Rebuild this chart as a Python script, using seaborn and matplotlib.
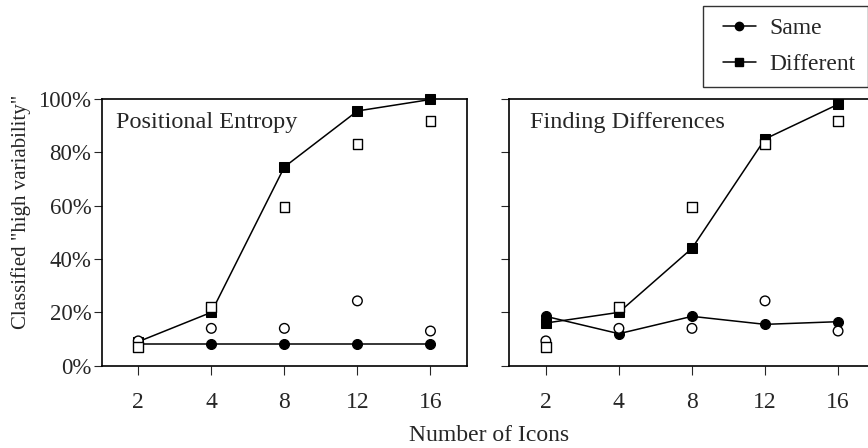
import numpy as np
import pandas as pd
import matplotlib
matplotlib.use("Agg")
import matplotlib.pyplot as plt
import seaborn as sns
from matplotlib.lines import Line2D
from matplotlib.legend_handler import HandlerLine2D

categories = ["2", "4", "8", "12", "16"]
panels = ["Positional Entropy", "Finding Differences"]

# model results (filled, connected)
pe_same = [8, 8, 8, 8, 8]
pe_diff = [9, 20, 74.5, 95.5, 99.8]
fd_same = [18.5, 12, 18.5, 15.5, 16.5]
fd_diff = [16, 20, 44, 85, 98]
# human data (open, unconnected)
human_same = [9.3, 14, 14, 24.3, 13]
human_diff = [7, 22, 59.5, 83, 91.7]

sns.set_style("ticks")
plt.rcParams["font.family"] = ["Liberation Serif", "DejaVu Serif"]
plt.rcParams["font.size"] = 14

fig = plt.figure(figsize=(8.68, 4.48), dpi=100)
axw, axh = 0.4208, 0.5954
ax1 = fig.add_axes([0.1172, 0.1837, axw, axh])
ax2 = fig.add_axes([0.5868, 0.1837, axw, axh])

model = {panels[0]: (pe_same, pe_diff), panels[1]: (fd_same, fd_diff)}
text_x = {panels[0]: 0.04, panels[1]: 0.057}

for ax, name in zip([ax1, ax2], panels):
    same, diff = model[name]
    rows = []
    for i, c in enumerate(categories):
        rows.append({"x": i, "value": same[i], "series": "Same"})
        rows.append({"x": i, "value": diff[i], "series": "Different"})
    df = pd.DataFrame(rows)
    sns.lineplot(data=df, x="x", y="value", style="series",
                 markers={"Same": "o", "Different": "s"}, dashes=False,
                 color="black", linewidth=1.1, markersize=7.2,
                 markeredgecolor="black", ax=ax, legend=False, clip_on=False,
                 zorder=3)
    hrows = []
    for i, c in enumerate(categories):
        hrows.append({"x": i, "value": human_same[i], "series": "Same"})
        hrows.append({"x": i, "value": human_diff[i], "series": "Different"})
    hdf = pd.DataFrame(hrows)
    sns.scatterplot(data=hdf, x="x", y="value", style="series",
                    markers={"Same": "o", "Different": "s"},
                    facecolor="white", edgecolor="black", linewidth=1.0,
                    s=48, ax=ax, legend=False, zorder=4, clip_on=False)
    ax.set_xlim(-0.5, 4.5)
    ax.set_ylim(0, 100)
    ax.set_xticks(range(len(categories)))
    ax.set_xticklabels(categories)
    ax.set_yticks([0, 20, 40, 60, 80, 100])
    ax.set_xlabel("")
    ax.set_ylabel("")
    ax.tick_params(axis="x", length=6.5, width=0.8, pad=12.5, labelsize=17)
    ax.tick_params(axis="y", length=6, width=0.8, pad=1.5, labelsize=16.5)
    for sp in ax.spines.values():
        sp.set_visible(True)
        sp.set_linewidth(1.2)
        sp.set_color("black")
    ax.text(text_x[name], 0.91, name, transform=ax.transAxes, fontsize=17.5,
            ha="left", va="center")

ax1.set_yticklabels([f"{v}%" for v in [0, 20, 40, 60, 80, 100]])
ax2.set_yticklabels([])

fig.text(0.5634, 0.029, "Number of Icons", ha="center", va="center", fontsize=17)
fig.text(0.024, 0.527, 'Classified "high variability"', rotation=90,
         ha="center", va="center", fontsize=15)

handles = [
    Line2D([], [], color="black", marker="o", markersize=6, linewidth=1.1),
    Line2D([], [], color="black", marker="s", markersize=6, linewidth=1.1),
]
leg = fig.legend(handles, ["Same", "Different"], loc="upper left",
                 bbox_to_anchor=(0.8096, 0.987), borderaxespad=0,
                 frameon=True, fancybox=False,
                 edgecolor="black", fontsize=17, handlelength=1.74,
                 labelspacing=0.62, borderpad=0.5, handletextpad=0.6,
                 handler_map={Line2D: HandlerLine2D(xpad=0.36)})
leg.get_frame().set_linewidth(1.0)

fig.savefig("out.png", dpi=100)
